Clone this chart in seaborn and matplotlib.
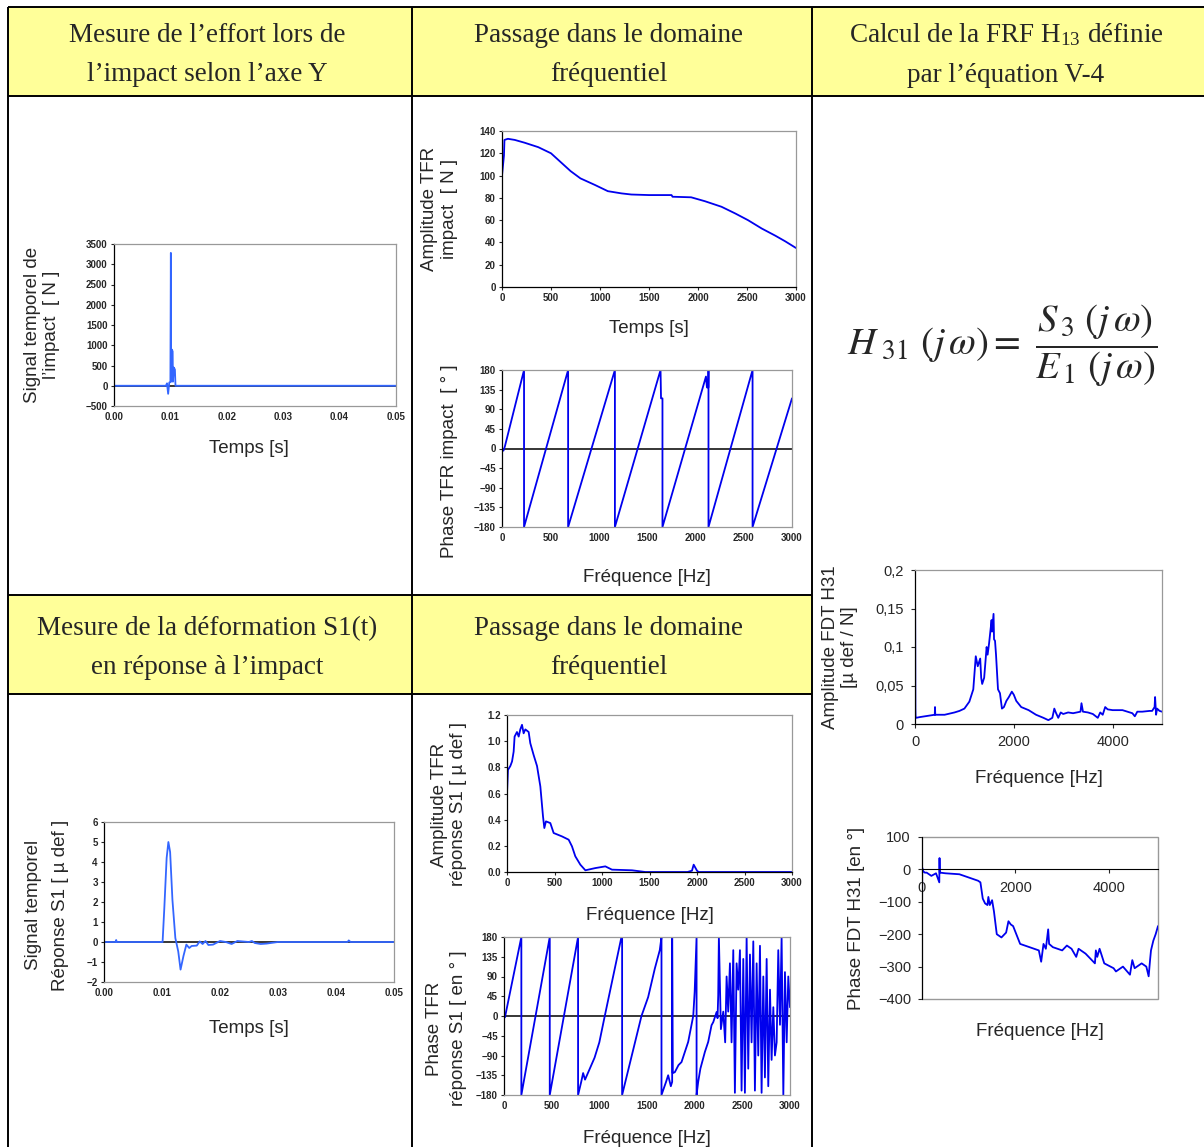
import numpy as np
import seaborn as sns
import matplotlib.pyplot as plt
from matplotlib.patches import Rectangle

sns.set_style('white')
plt.rcParams['font.family'] = ['Liberation Sans', 'DejaVu Sans']
plt.rcParams['mathtext.fontset'] = 'stix'

# ---- donnees ----
# effort d'impact (temps)
t_imp = [0, 0.0092, 0.0094, 0.0096, 0.0098, 0.0100, 0.01008, 0.01013, 0.0102, 0.0104, 0.01045, 0.0106, 0.0108, 0.0109, 0.05]
f_imp = [0, 0, 60, -200, 80, 100, 3280, 100, 900, 850, 100, 450, 400, 0, 0]

# amplitude TFR impact
fr_amp_imp = [0, 20, 25, 60, 130, 230, 370, 500, 600, 700, 800, 950, 1080, 1220, 1320, 1500, 1730, 1740, 1930, 2070, 2240, 2380, 2510, 2650, 2790, 2890, 3000]
amp_imp = [100, 118, 132, 133, 132, 129.5, 125.5, 120, 112, 104, 97.5, 91.5, 86, 84, 83, 82.5, 82.5, 81, 80.5, 77, 72, 66, 60, 52.5, 46, 41, 35]

# phase TFR impact
fr_ph_imp = [0, 15, 30, 228, 228, 684, 684, 1168, 1168, 1640, 1645, 1660, 1660, 2110, 2120, 2135, 2136, 2136, 2592, 2592, 3000]
ph_imp = [0, -5, 5, 180, -180, 180, -180, 180, -180, 180, 115, 115, -180, 165, 140, 140, 180, -180, 180, -180, 115]

# deformation S1 (temps)
t_s1 = [0, 0.002, 0.0021, 0.0022, 0.0101, 0.0104, 0.0108, 0.0111, 0.0114, 0.0118, 0.0123, 0.0128, 0.0132, 0.0137, 0.0142, 0.0147,
        0.0151, 0.016, 0.0165, 0.017, 0.0175, 0.018, 0.0188, 0.02, 0.021, 0.022, 0.023, 0.025, 0.0255, 0.026, 0.027, 0.028, 0.03,
        0.035, 0.042, 0.0422, 0.0425, 0.05]
s1 = [0, 0, 0.1, 0, 0, 1.7, 4.2, 5.0, 4.5, 2.1, 0.2, -0.47, -1.38, -0.7, -0.13, -0.3,
      -0.2, -0.18, 0.03, -0.1, 0.05, -0.15, -0.13, 0.05, 0, -0.1, 0.05, 0, 0.05, -0.05, -0.1, -0.08, 0,
      0, 0, 0.08, 0, 0]

# amplitude TFR reponse S1
fr_amp_s1 = [0, 10, 35, 53, 70, 80, 105, 123, 140, 158, 175, 193, 228, 245, 280, 316, 351, 379, 393, 410, 456, 491, 579, 649, 684,
             719, 772, 825, 930, 1035, 1105, 1316, 1456, 1900, 1947, 1965, 2000, 2017, 3000]
amp_s1 = [0.6, 0.78, 0.81, 0.845, 0.92, 1.035, 1.07, 1.035, 1.09, 1.125, 1.06, 1.09, 1.07, 0.985, 0.895, 0.81, 0.654, 0.425, 0.336, 0.387, 0.374, 0.298, 0.272, 0.247, 0.196,
          0.12, 0.056, 0.013, 0.03, 0.043, 0.018, 0.013, 0, 0, 0.01, 0.056, 0.01, 0, 0]

# phase TFR reponse S1
fr_ph_s1 = [0, 10, 182, 182, 480, 480, 777, 777, 810, 830, 850, 870, 900, 950, 1000, 1057, 1232, 1239, 1239, 1442, 1512, 1582, 1634, 1652, 1652,
            1700, 1722, 1750, 1764, 1764, 1770, 1792, 1830, 1862, 1932, 1985, 2000, 2020, 2020, 2037, 2060, 2107, 2142, 2177, 2195, 2230, 2240,
            2247, 2254, 2275, 2300, 2320, 2335, 2352, 2370, 2387, 2405, 2422, 2440, 2457, 2475, 2492, 2510, 2527, 2545, 2562, 2580, 2597,
            2615, 2632, 2650, 2667, 2685, 2702, 2720, 2737, 2755, 2772, 2790, 2807, 2825, 2842, 2860, 2877, 2895, 2912, 2930, 2947, 2965,
            2982, 3000]
ph_s1 = [0, -3, 180, -180, 180, -180, 180, -180, -150, -130, -145, -135, -120, -95, -60, 0, 180, 180, -180, 0, 43, 108, 150, 180, -180,
         -150, -135, -160, -150, 180, -130, -128, -112, -105, -59, 0, 55, 180, -180, -150, -120, -82, -59, -21, -14, 9, -5,
         47, 180, -30, 10, -60, 90, 10, 120, -60, 150, -175, 120, 60, 150, -170, 130, -175, 180, -120, 140, -60,
         170, -170, 120, -90, 160, -175, 90, -140, 130, -160, 60, -100, 20, -90, -60, 150, -20, 180, -180, 100, -60,
         90, 20]

# amplitude FDT H31
fr_h31 = [0, 5, 8, 12, 20, 100, 200, 400, 405, 410, 600, 800, 900, 1000, 1100, 1180, 1230, 1270, 1320, 1340, 1360, 1400, 1450, 1470, 1500,
          1550, 1560, 1590, 1600, 1620, 1640, 1680, 1720, 1760, 1800, 1850, 1900, 1960, 2000, 2050, 2150, 2300, 2450, 2600, 2700, 2780,
          2820, 2850, 2900, 2950, 3000, 3100, 3200, 3350, 3370, 3400, 3500, 3600, 3700, 3750, 3800, 3850, 3900, 4000, 4200, 4400, 4450,
          4500, 4600, 4750, 4800, 4850, 4860, 4880, 4900, 4950, 5000]
amp_h31 = [0.2, 0.11, 0.02, 0.008, 0.008, 0.009, 0.01, 0.012, 0.022, 0.012, 0.012, 0.015, 0.017, 0.02, 0.029, 0.045, 0.088, 0.075, 0.085, 0.06, 0.052, 0.06, 0.1, 0.09, 0.105,
           0.135, 0.12, 0.143, 0.11, 0.108, 0.09, 0.045, 0.04, 0.02, 0.022, 0.03, 0.035, 0.042, 0.038, 0.03, 0.022, 0.018, 0.012, 0.008, 0.005, 0.008,
           0.02, 0.015, 0.008, 0.015, 0.013, 0.015, 0.014, 0.016, 0.027, 0.016, 0.015, 0.013, 0.008, 0.015, 0.012, 0.022, 0.019, 0.018, 0.018, 0.014, 0.01,
           0.016, 0.016, 0.017, 0.017, 0.022, 0.035, 0.012, 0.02, 0.017, 0.016]

# phase FDT H31
fr_ph_h31 = [0, 5, 20, 60, 100, 200, 300, 370, 375, 380, 385, 390, 500, 800, 1000, 1200, 1250, 1300, 1350, 1400, 1420, 1450, 1500, 1540,
             1600, 1700, 1800, 1850, 1900, 1950, 2100, 2300, 2500, 2550, 2600, 2650, 2700, 2720, 2800, 3000, 3100, 3200, 3300, 3350,
             3500, 3700, 3720, 3750, 3800, 3900, 4100, 4150, 4300, 4450, 4500, 4550, 4600, 4700, 4800, 4850, 4880, 4900, 4950, 5000, 5050]
ph_h31 = [-150, 5, -5, -10, -10, -20, -12, -40, 35, -10, -10, -10, -12, -15, -25, -35, -40, -90, -105, -110, -85, -110, -95, -130,
          -200, -210, -195, -160, -170, -175, -230, -240, -250, -285, -230, -245, -185, -230, -240, -250, -235, -245, -270, -245,
          -260, -290, -250, -270, -245, -290, -305, -315, -300, -325, -280, -305, -300, -290, -300, -330, -280, -250, -220, -200, -175]

# graduations
t_ticks = [0, 0.01, 0.02, 0.03, 0.04, 0.05]
imp_yticks = [-500, 0, 500, 1000, 1500, 2000, 2500, 3000, 3500]
fr_ticks = [0, 500, 1000, 1500, 2000, 2500, 3000]
amp_imp_yticks = [0, 20, 40, 60, 80, 100, 120, 140]
ph_yticks = [-180, -135, -90, -45, 0, 45, 90, 135, 180]
s1_yticks = [-2, -1, 0, 1, 2, 3, 4, 5, 6]
amp_s1_yticks = [0, 0.2, 0.4, 0.6, 0.8, 1.0, 1.2]
h31_xticks = [0, 2000, 4000]
h31_yticks = [0, 0.05, 0.1, 0.15, 0.2]
h31_ylabels = ['0', '0,05', '0,1', '0,15', '0,2']
ph_h31_yticks = [-400, -300, -200, -100, 0, 100]

W, H = 1204, 1147
fig = plt.figure(figsize=(W / 100, H / 100), dpi=100)

# ---- tableau de fond ----
bg = fig.add_axes([0, 0, 1, 1])
bg.set_xlim(0, W)
bg.set_ylim(H, 0)
bg.axis('off')
yellow = '#ffff99'
bg.add_patch(Rectangle((8, 7), W - 8, 89, fc=yellow, ec='none'))
bg.add_patch(Rectangle((8, 595), 804, 99, fc=yellow, ec='none'))
lk = dict(color='black', lw=1.4, solid_capstyle='butt')
bg.plot([8, W], [7, 7], **lk)
bg.plot([8, W], [96, 96], **lk)
bg.plot([8, 812], [595, 595], **lk)
bg.plot([8, 812], [694, 694], **lk)
for xv in (8, 412, 812):
    bg.plot([xv, xv], [7, H], **lk)

hk = dict(ha='center', va='center', fontsize=19.5, family=['Liberation Serif', 'DejaVu Serif'], linespacing=1.75)
bg.text(207, 55, 'Mesure de l’effort lors de\nl’impact selon l’axe Y', **hk)
bg.text(609, 55, 'Passage dans le domaine\nfréquentiel', **hk)
bg.text(1006, 55, 'Calcul de la FRF H$_{\\mathregular{13}}$ définie\npar l’équation V-4', **hk)
bg.text(207, 648, 'Mesure de la déformation S1(t)\nen réponse à l’impact', **hk)
bg.text(609, 648, 'Passage dans le domaine\nfréquentiel', **hk)

bg.text(1002, 346, r'$H_{\ 31}\ \left(j\,\omega\right) = \ \dfrac{S_{\,3}\ \left(j\,\omega\right)}{E_{\,1}\ \left(j\,\omega\right)}$',
        ha='center', va='center', fontsize=28)


def px_axes(x0, y0, x1, y1):
    return fig.add_axes([x0 / W, 1 - y1 / H, (x1 - x0) / W, (y1 - y0) / H])


def excel_frame(ax, zero_line, small=True):
    for s in ax.spines.values():
        s.set_color('#999999')
        s.set_linewidth(0.9)
    ax.spines['left'].set_color('black')
    if zero_line:
        ax.axhline(0, color='black', lw=1.1, zorder=1)
    else:
        ax.spines['bottom'].set_color('black')
    if small:
        ax.tick_params(axis='both', labelsize=7, length=2.5, width=0.8, direction='out', pad=2,
                       left=True, bottom=not zero_line)
        for lbl in ax.get_xticklabels() + ax.get_yticklabels():
            lbl.set_fontweight('bold')
    else:
        ax.tick_params(axis='both', labelsize=10.5, length=3, width=0.8, direction='out', pad=5, left=True, bottom=True)


lab = 13.5
blue = '#0000ee'
lblue = '#3366ff'

# 1. effort d'impact
ax = px_axes(114, 244, 396, 406)
sns.lineplot(x=t_imp, y=f_imp, ax=ax, color=lblue, lw=1.3, sort=False, estimator=None)
ax.set_xlim(0, 0.05)
ax.set_ylim(-500, 3500)
ax.set_xticks(t_ticks)
ax.set_xticklabels([f'{v:.2f}' for v in t_ticks])
ax.set_yticks(imp_yticks)
excel_frame(ax, True)
ax.set_ylabel('Signal temporel de\nl’impact  [ N ]', fontsize=lab)
ax.yaxis.set_label_coords(-0.19, 0.5)
ax.set_xlabel('Temps [s]', fontsize=lab)
ax.xaxis.set_label_coords(0.48, -0.21)

# 2. amplitude TFR impact
ax = px_axes(502, 131, 796, 287)
sns.lineplot(x=fr_amp_imp, y=amp_imp, ax=ax, color=blue, lw=1.3, sort=False, estimator=None)
ax.set_xlim(0, 3000)
ax.set_ylim(0, 140)
ax.set_xticks(fr_ticks)
ax.set_yticks(amp_imp_yticks)
excel_frame(ax, False)
ax.set_ylabel('Amplitude TFR\nimpact  [ N ]', fontsize=lab)
ax.yaxis.set_label_coords(-0.15, 0.5)
ax.set_xlabel('Temps [s]', fontsize=lab)
ax.xaxis.set_label_coords(0.5, -0.21)

# 3. phase TFR impact
ax = px_axes(502, 370, 792, 527)
sns.lineplot(x=fr_ph_imp, y=ph_imp, ax=ax, color=blue, lw=1.3, sort=False, estimator=None)
ax.set_xlim(0, 3000)
ax.set_ylim(-180, 180)
ax.set_xticks(fr_ticks)
ax.set_yticks(ph_yticks)
excel_frame(ax, True)
ax.set_ylabel('Phase TFR impact  [ ° ]', fontsize=lab)
ax.yaxis.set_label_coords(-0.15, 0.42)
ax.set_xlabel('Fréquence [Hz]', fontsize=lab)
ax.xaxis.set_label_coords(0.5, -0.27)

# 4. deformation S1
ax = px_axes(104, 822, 394, 982)
sns.lineplot(x=t_s1, y=s1, ax=ax, color=lblue, lw=1.3, sort=False, estimator=None)
ax.set_xlim(0, 0.05)
ax.set_ylim(-2, 6)
ax.set_xticks(t_ticks)
ax.set_xticklabels([f'{v:.2f}' for v in t_ticks])
ax.set_yticks(s1_yticks)
excel_frame(ax, True)
ax.set_ylabel('Signal temporel\nRéponse S1 [ µ def ]', fontsize=lab, linespacing=1.8)
ax.yaxis.set_label_coords(-0.12, 0.48)
ax.set_xlabel('Temps [s]', fontsize=lab)
ax.xaxis.set_label_coords(0.5, -0.24)

# 5. amplitude TFR reponse S1
ax = px_axes(507, 715, 792, 872)
sns.lineplot(x=fr_amp_s1, y=amp_s1, ax=ax, color=blue, lw=1.3, sort=False, estimator=None)
ax.set_xlim(0, 3000)
ax.set_ylim(0, 1.2)
ax.set_xticks(fr_ticks)
ax.set_yticks(amp_s1_yticks)
ax.set_yticklabels([f'{v:.1f}' for v in amp_s1_yticks])
excel_frame(ax, False)
ax.set_ylabel('Amplitude TFR\nréponse S1 [ µ def ]', fontsize=lab)
ax.yaxis.set_label_coords(-0.14, 0.43)
ax.set_xlabel('Fréquence [Hz]', fontsize=lab)
ax.xaxis.set_label_coords(0.5, -0.22)

# 6. phase TFR reponse S1
ax = px_axes(504, 937, 790, 1095)
sns.lineplot(x=fr_ph_s1, y=ph_s1, ax=ax, color=blue, lw=1.3, sort=False, estimator=None)
ax.set_xlim(0, 3000)
ax.set_ylim(-180, 180)
ax.set_xticks(fr_ticks)
ax.set_yticks(ph_yticks)
excel_frame(ax, True)
ax.set_ylabel('Phase TFR\nréponse S1 [ en ° ]', fontsize=lab, linespacing=1.5)
ax.yaxis.set_label_coords(-0.13, 0.42)
ax.set_xlabel('Fréquence [Hz]', fontsize=lab)
ax.xaxis.set_label_coords(0.5, -0.22)

# 7. amplitude FDT H31
ax = px_axes(915, 570, 1162, 724)
sns.lineplot(x=fr_h31, y=amp_h31, ax=ax, color=blue, lw=1.3, sort=False, estimator=None)
ax.set_xlim(0, 5000)
ax.set_ylim(0, 0.2)
ax.set_xticks(h31_xticks)
ax.set_yticks(h31_yticks)
ax.set_yticklabels(h31_ylabels)
excel_frame(ax, False, small=False)
ax.set_ylabel('Amplitude FDT H31\n[µ def / N]', fontsize=lab)
ax.yaxis.set_label_coords(-0.23, 0.5)
ax.set_xlabel('Fréquence [Hz]', fontsize=lab)
ax.xaxis.set_label_coords(0.5, -0.3)

# 8. phase FDT H31
ax = px_axes(922, 837, 1158, 999)
sns.lineplot(x=fr_ph_h31, y=ph_h31, ax=ax, color=blue, lw=1.3, sort=False, estimator=None)
ax.set_xlim(0, 5050)
ax.set_ylim(-400, 100)
ax.set_xticks(h31_xticks)
ax.set_yticks(ph_h31_yticks)
for s in ax.spines.values():
    s.set_visible(False)
ax.spines['left'].set_visible(True)
ax.spines['left'].set_color('black')
ax.spines['bottom'].set_visible(True)
ax.spines['bottom'].set_color('black')
ax.spines['bottom'].set_position(('data', 0))
ax.add_patch(Rectangle((0, 0), 1, 1, transform=ax.transAxes, fill=False, ec='#999999', lw=1.0, clip_on=False))
ax.tick_params(axis='both', labelsize=10.5, length=3, width=0.8, direction='out', pad=5, left=True, bottom=True)
ax.set_ylabel('Phase FDT H31 [en °]', fontsize=lab)
ax.yaxis.set_label_coords(-0.24, 0.5)
ax.set_xlabel('Fréquence [Hz]', fontsize=lab)
ax.xaxis.set_label_coords(0.5, -0.15)

fig.savefig('out.png', dpi=100)
